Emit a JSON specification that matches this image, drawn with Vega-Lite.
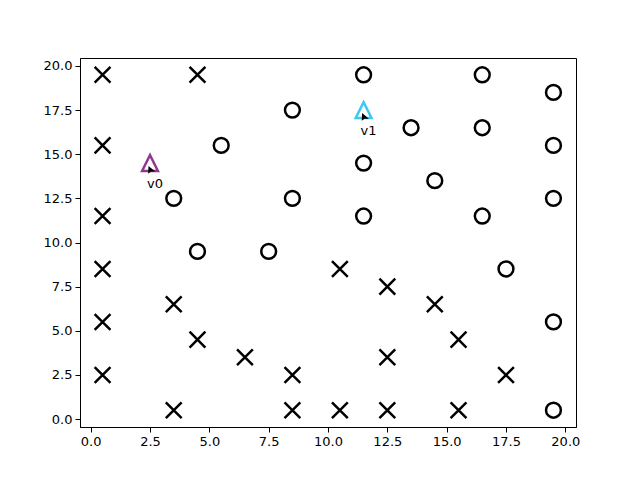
{
  "$schema": "https://vega.github.io/schema/vega-lite/v6.json",
  "width": 496,
  "height": 369,
  "autosize": {"type": "none"},
  "padding": {"left": 80, "top": 58, "right": 64, "bottom": 53},
  "background": "white",
  "config": {
    "view": {"stroke": "black", "strokeWidth": 1},
    "font": "DejaVu Sans",
    "axis": {
      "grid": false,
      "domainColor": "black",
      "domainWidth": 1,
      "tickColor": "black",
      "tickSize": 5,
      "tickWidth": 1,
      "labelColor": "black",
      "labelFont": "DejaVu Sans",
      "labelFontSize": 13,
      "labelPadding": 3,
      "title": null
    }
  },
  "data": {
    "values": [
      {"x": 0.5, "y": 19.5, "kind": "cross", "label": ""},
      {"x": 4.5, "y": 19.5, "kind": "cross", "label": ""},
      {"x": 0.5, "y": 15.5, "kind": "cross", "label": ""},
      {"x": 0.5, "y": 11.5, "kind": "cross", "label": ""},
      {"x": 0.5, "y": 8.5, "kind": "cross", "label": ""},
      {"x": 10.5, "y": 8.5, "kind": "cross", "label": ""},
      {"x": 12.5, "y": 7.5, "kind": "cross", "label": ""},
      {"x": 3.5, "y": 6.5, "kind": "cross", "label": ""},
      {"x": 14.5, "y": 6.5, "kind": "cross", "label": ""},
      {"x": 0.5, "y": 5.5, "kind": "cross", "label": ""},
      {"x": 4.5, "y": 4.5, "kind": "cross", "label": ""},
      {"x": 15.5, "y": 4.5, "kind": "cross", "label": ""},
      {"x": 6.5, "y": 3.5, "kind": "cross", "label": ""},
      {"x": 12.5, "y": 3.5, "kind": "cross", "label": ""},
      {"x": 0.5, "y": 2.5, "kind": "cross", "label": ""},
      {"x": 8.5, "y": 2.5, "kind": "cross", "label": ""},
      {"x": 17.5, "y": 2.5, "kind": "cross", "label": ""},
      {"x": 3.5, "y": 0.5, "kind": "cross", "label": ""},
      {"x": 8.5, "y": 0.5, "kind": "cross", "label": ""},
      {"x": 10.5, "y": 0.5, "kind": "cross", "label": ""},
      {"x": 12.5, "y": 0.5, "kind": "cross", "label": ""},
      {"x": 15.5, "y": 0.5, "kind": "cross", "label": ""},
      {"x": 11.5, "y": 19.5, "kind": "circle", "label": ""},
      {"x": 16.5, "y": 19.5, "kind": "circle", "label": ""},
      {"x": 19.5, "y": 18.5, "kind": "circle", "label": ""},
      {"x": 8.5, "y": 17.5, "kind": "circle", "label": ""},
      {"x": 13.5, "y": 16.5, "kind": "circle", "label": ""},
      {"x": 16.5, "y": 16.5, "kind": "circle", "label": ""},
      {"x": 5.5, "y": 15.5, "kind": "circle", "label": ""},
      {"x": 19.5, "y": 15.5, "kind": "circle", "label": ""},
      {"x": 11.5, "y": 14.5, "kind": "circle", "label": ""},
      {"x": 14.5, "y": 13.5, "kind": "circle", "label": ""},
      {"x": 3.5, "y": 12.5, "kind": "circle", "label": ""},
      {"x": 8.5, "y": 12.5, "kind": "circle", "label": ""},
      {"x": 19.5, "y": 12.5, "kind": "circle", "label": ""},
      {"x": 11.5, "y": 11.5, "kind": "circle", "label": ""},
      {"x": 16.5, "y": 11.5, "kind": "circle", "label": ""},
      {"x": 4.5, "y": 9.5, "kind": "circle", "label": ""},
      {"x": 7.5, "y": 9.5, "kind": "circle", "label": ""},
      {"x": 17.5, "y": 8.5, "kind": "circle", "label": ""},
      {"x": 19.5, "y": 5.5, "kind": "circle", "label": ""},
      {"x": 19.5, "y": 0.5, "kind": "circle", "label": ""},
      {"x": 2.5, "y": 14.5, "kind": "agent", "label": "v0"},
      {"x": 11.5, "y": 17.5, "kind": "agent", "label": "v1"}
    ]
  },
  "encoding": {
    "x": {
      "field": "x", "type": "quantitative",
      "scale": {"domain": [-0.45, 20.45], "nice": false, "zero": false},
      "axis": {"values": [0, 2.5, 5, 7.5, 10, 12.5, 15, 17.5, 20], "format": ".1f"}
    },
    "y": {
      "field": "y", "type": "quantitative",
      "scale": {"domain": [-0.45, 20.45], "nice": false, "zero": false},
      "axis": {"values": [0, 2.5, 5, 7.5, 10, 12.5, 15, 17.5, 20], "format": ".1f"}
    }
  },
  "layer": [
    {
      "transform": [{"filter": "datum.kind === 'cross'"}],
      "mark": {"type": "point", "shape": "M-1,-1L1,1M1,-1L-1,1", "size": 250, "stroke": "black", "strokeWidth": 2.5, "filled": false, "opacity": 1}
    },
    {
      "transform": [{"filter": "datum.kind === 'circle'"}],
      "mark": {"type": "point", "shape": "circle", "size": 220, "stroke": "black", "strokeWidth": 2.5, "filled": false, "opacity": 1}
    },
    {
      "transform": [{"filter": "datum.kind === 'agent'"}],
      "mark": {"type": "point", "shape": "M0,-1L1,1L-1,1Z", "size": 250, "strokeWidth": 2.5, "filled": false, "opacity": 1},
      "encoding": {
        "stroke": {
          "field": "label", "type": "nominal",
          "scale": {"domain": ["v0", "v1"], "range": ["#8e3a8e", "#3cc8f0"]},
          "legend": null
        }
      }
    },
    {
      "transform": [{"filter": "datum.kind === 'agent'"}],
      "mark": {"type": "point", "shape": "M-0.3,0.6L-0.37,2.13L0.19,1.71L1.05,1.71Z", "size": 100, "fill": "black", "filled": true, "strokeWidth": 0, "opacity": 1}
    },
    {
      "transform": [{"filter": "datum.kind === 'agent'"}],
      "mark": {"type": "text", "dx": 5, "dy": 21, "fontSize": 13, "font": "DejaVu Sans", "color": "black"},
      "encoding": {"text": {"field": "label"}}
    }
  ]
}
